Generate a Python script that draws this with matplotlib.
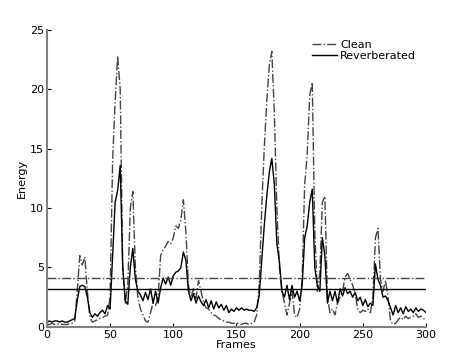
import numpy as np
import matplotlib
matplotlib.use("Agg")
import matplotlib.pyplot as plt

# frame index, sampled every 2 frames
frames = np.arange(0, 301, 2)

clean = [0.2, 0.2, 0.3, 0.2, 0.2, 0.3, 0.2, 0.2, 0.2, 0.3, 0.3,
         0.5, 3.0, 6.0, 5.2, 5.9, 3.0, 0.8, 0.4, 0.5, 0.6,
         0.7, 0.8, 0.9, 1.0, 2.5, 14.0, 19.0, 22.8, 20.0, 5.0,
         2.0, 3.5, 10.0, 11.4, 5.0, 2.5, 1.5, 1.0, 0.5, 0.4,
         1.2, 2.0, 1.8, 2.5, 6.0, 6.5, 6.8, 7.2, 7.0, 7.5,
         8.5, 8.3, 9.0, 10.7, 8.0, 3.5, 2.5, 3.2, 2.4, 3.9,
         3.0, 2.0, 1.6, 1.5, 1.2, 1.0, 0.9, 0.7, 0.6, 0.5,
         0.4, 0.4, 0.3, 0.3, 0.3, 0.3, 0.2, 0.3, 0.3, 0.2,
         0.3, 0.4, 1.0, 3.5, 10.0, 15.0, 19.0, 22.0, 23.2, 18.0,
         10.0, 5.0, 3.0, 2.0, 1.0, 2.0, 3.0, 1.0, 0.8, 1.5,
         4.0, 12.0, 14.5, 19.5, 20.6, 8.0, 3.0, 4.5, 10.5, 11.0,
         2.5, 1.2, 1.5, 1.0, 2.0, 2.5, 3.0, 4.2, 4.5, 4.0,
         3.5, 2.8, 1.5, 1.2, 1.4, 1.3, 1.5, 1.2, 2.5, 7.5,
         8.3, 4.0, 3.0, 3.9, 2.5, 0.5, 0.2, 0.3, 0.6, 0.8,
         0.6, 0.9, 0.7, 0.8, 0.9, 1.1, 0.8, 0.9, 0.7, 0.6]

reverb = [0.4, 0.5, 0.4, 0.5, 0.5, 0.4, 0.5, 0.4, 0.4, 0.5, 0.6,
          0.7, 2.2, 3.4, 3.5, 3.4, 2.5, 1.2, 0.8, 1.1, 0.9,
          1.2, 1.4, 1.1, 1.8, 1.5, 6.0, 10.5, 11.5, 13.6, 5.0,
          2.2, 1.9, 5.0, 6.6, 4.0, 3.0, 2.7, 2.2, 2.9, 2.3,
          3.2, 2.0, 3.0, 2.0, 3.3, 4.1, 3.6, 4.2, 3.5, 4.3,
          4.6, 4.7, 5.0, 6.3, 5.6, 3.0, 2.2, 2.8, 2.0, 2.6,
          2.1, 1.8, 2.3, 1.6, 2.2, 1.5, 2.1, 1.6, 1.9, 1.4,
          1.8, 1.2, 1.5, 1.3, 1.6, 1.4, 1.6, 1.4, 1.5, 1.4,
          1.4, 1.3, 1.6, 2.6, 5.5, 8.5, 11.0, 13.0, 14.2, 12.0,
          7.0, 5.5, 3.0, 2.5, 3.5, 2.3, 3.5, 2.5, 3.0, 2.2,
          3.5, 7.5, 8.5, 10.5, 11.6, 5.0, 3.5, 3.0, 7.5, 6.0,
          2.0, 3.0, 2.2, 3.0, 2.0, 3.2, 2.6, 3.3, 2.8, 3.0,
          2.5, 2.9, 2.2, 2.5, 1.8, 2.3, 1.7, 2.0, 1.8, 5.3,
          4.0, 3.5, 2.5, 2.6, 2.2, 1.6, 1.0, 1.8, 1.2, 1.6,
          1.1, 1.7, 1.3, 1.5, 1.2, 1.6, 1.3, 1.5, 1.4, 1.2]

clean_mean = 4.15
reverb_mean = 3.2

fig = plt.figure(figsize=(4.6, 3.58), dpi=100)
ax = fig.add_axes([0.102, 0.087, 0.824, 0.829])

ax.plot(frames, clean, linestyle='-.', color='#444444', lw=1.0, label='Clean')
ax.plot(frames, reverb, linestyle='-', color='black', lw=1.0, label='Reverberated')
ax.axhline(clean_mean, linestyle='-.', color='#444444', lw=1.0)
ax.axhline(reverb_mean, linestyle='-', color='black', lw=1.0)

ax.set_xlim(0, 300)
ax.set_ylim(0, 25)
ax.set_xticks(range(0, 301, 50))
ax.set_yticks(range(0, 26, 5))
ax.tick_params(direction='in', length=3, labelsize=8, pad=2)
for s in ['top', 'right']:
    ax.spines[s].set_visible(False)
for s in ['left', 'bottom']:
    ax.spines[s].set_color('#808080')
    ax.spines[s].set_linewidth(1.5)

ax.set_xlabel('Frames', fontsize=8, labelpad=0)
ax.set_ylabel('Energy', fontsize=8, labelpad=2)

ax.legend(loc='upper right', bbox_to_anchor=(1.0, 1.0), frameon=False,
          fontsize=8, handlelength=2.2, handletextpad=0.3, labelspacing=0.1)

fig.savefig('out.png', dpi=100)
